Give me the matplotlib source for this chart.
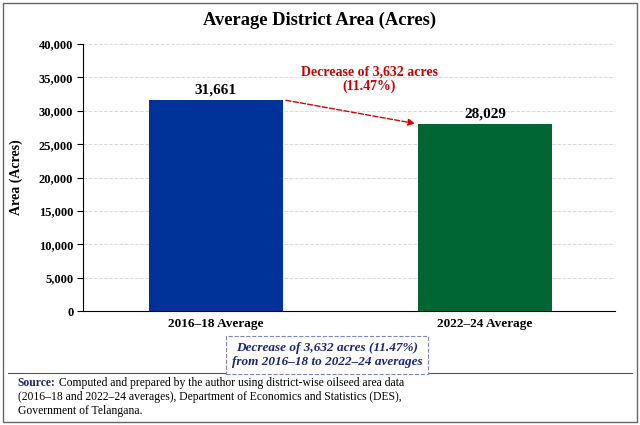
import matplotlib as mpl
import matplotlib.pyplot as plt
from matplotlib.patches import Rectangle
from matplotlib.lines import Line2D

mpl.rcParams["font.family"] = ["Liberation Serif", "DejaVu Serif"]

categories = ["2016\u201318 Average", "2022\u201324 Average"]
values = [31661, 28029]
bar_colors = ["#003399", "#006633"]
yticks = [0, 5000, 10000, 15000, 20000, 25000, 30000, 35000, 40000]
change_abs = values[0] - values[1]
change_pct = change_abs / values[0] * 100

fig = plt.figure(figsize=(6.4, 4.25), dpi=100)
ax = fig.add_axes([0.1297, 0.268, 0.8313, 0.6282])

x = range(len(categories))
ax.bar(x, values, width=0.5, color=bar_colors, zorder=3)
for xi, v in zip(x, values):
    ax.text(xi, v + 500, f"{v:,}", ha="center", va="bottom",
            fontsize=11, fontweight="bold")

ax.set_xlim(-0.494, 1.483)
ax.set_ylim(0, 40000)
ax.set_yticks(yticks)
ax.set_yticklabels([f"{t:,}" for t in yticks], fontsize=9, fontweight="bold")
ax.set_xticks(list(x))
ax.set_xticklabels(categories, fontsize=9.5, fontweight="bold")
ax.tick_params(axis="x", length=0, pad=5)
ax.tick_params(axis="y", length=4, pad=3)
ax.grid(axis="y", linestyle="--", color="#d9d9d9", linewidth=0.7, zorder=0)
ax.spines["top"].set_visible(False)
ax.spines["right"].set_visible(False)
ax.set_ylabel("Area (Acres)", fontsize=10, fontweight="bold")
ax.yaxis.set_label_coords(-0.113, 0.5)

# arrow between bar tops
ax.annotate("", xy=(0.75, values[1]), xytext=(0.25, values[0]),
            arrowprops=dict(arrowstyle="-|>", color="#dd0000", lw=1,
                            linestyle="--", mutation_scale=10), zorder=4)
ax.text(0.57, 34750,
        f"Decrease of {change_abs:,} acres\n({change_pct:.2f}%)",
        ha="center", va="center", fontsize=10, fontweight="bold",
        color="#cc0000", linespacing=1.15)

fig.text(0.5, 0.953, "Average District Area (Acres)", ha="center",
         va="center", fontsize=13.3, fontweight="bold")

fig.text(0.511, 0.165,
         f"Decrease of {change_abs:,} acres ({change_pct:.2f}%)\n"
         "from 2016\u201318 to 2022\u201324 averages",
         ha="center", va="center", fontsize=9.5, fontweight="bold",
         style="italic", color="#1a237e", linespacing=1.3,
         bbox=dict(boxstyle="square,pad=0.4", facecolor="white",
                   edgecolor="#7c83c8", linestyle="--", linewidth=0.8))

# source note
fig.add_artist(Line2D([0.012, 0.988], [0.122, 0.122], color="#555555",
                      lw=0.8, transform=fig.transFigure))
src = fig.text(0.028, 0.091, "Source:", ha="left", va="baseline",
               fontsize=8.4, fontweight="bold", color="#1a237e")
fig.canvas.draw()
src_end = src.get_window_extent().x1 / fig.bbox.width
fig.text(src_end, 0.091,
         " Computed and prepared by the author using district-wise "
         "oilseed area data", ha="left", va="baseline", fontsize=8.4)
fig.text(0.028, 0.058,
         "(2016\u201318 and 2022\u201324 averages), Department of Economics and Statistics (DES),",
         ha="left", va="baseline", fontsize=8.4)
fig.text(0.028, 0.027, "Government of Telangana.", ha="left",
         va="baseline", fontsize=8.4)

fig.add_artist(Rectangle((0.005, 0.007), 0.99, 0.986, fill=False,
                         edgecolor="#666666", lw=1,
                         transform=fig.transFigure))

fig.savefig("out.png", dpi=100)
